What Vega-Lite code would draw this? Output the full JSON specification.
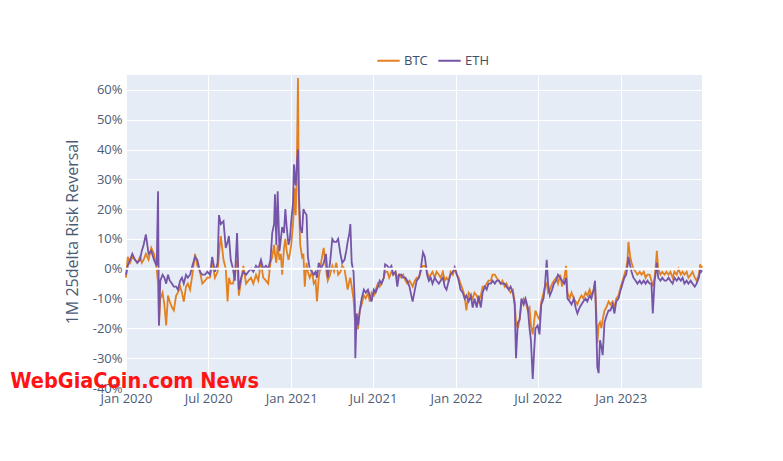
{
  "$schema": "https://vega.github.io/schema/vega-lite/v6.json",
  "autosize": {"type": "none"},
  "width": 576,
  "height": 313,
  "padding": {"left": 126, "top": 75, "right": 81, "bottom": 73},
  "background": "white",
  "config": {
    "font": "Open Sans",
    "view": {"fill": "#E5ECF6", "stroke": null},
    "axis": {"grid": true, "gridColor": "white", "gridWidth": 1, "domain": false, "ticks": false, "labelColor": "#4c5c76", "labelFont": "Open Sans", "labelFontSize": 13, "titleColor": "#4c5c76", "titleFont": "Open Sans", "titleFontWeight": "normal", "titleFontSize": 16, "labelOverlap": false},
    "axisX": {"format": "%b %Y", "tickCount": {"interval": "month", "step": 6}, "labelPadding": 4, "labelFlush": false},
    "axisY": {"values": [-40, -30, -20, -10, 0, 10, 20, 30, 40, 50, 60], "labelExpr": "datum.value + '%'", "labelPadding": 4, "titlePadding": 12}
  },
  "datasets": {
    "rr": [
      {"date":"2020-01-01","s":"BTC","v":-3},{"date":"2020-01-05","s":"BTC","v":4},{"date":"2020-01-10","s":"BTC","v":2},{"date":"2020-01-15","s":"BTC","v":4},{"date":"2020-01-21","s":"BTC","v":3},{"date":"2020-01-26","s":"BTC","v":2},{"date":"2020-02-01","s":"BTC","v":4},{"date":"2020-02-05","s":"BTC","v":2},{"date":"2020-02-09","s":"BTC","v":3},{"date":"2020-02-14","s":"BTC","v":5},{"date":"2020-02-20","s":"BTC","v":3},{"date":"2020-02-26","s":"BTC","v":7},{"date":"2020-03-03","s":"BTC","v":5},{"date":"2020-03-09","s":"BTC","v":0},{"date":"2020-03-12","s":"BTC","v":-5},{"date":"2020-03-14","s":"BTC","v":-19},{"date":"2020-03-17","s":"BTC","v":-10},{"date":"2020-03-22","s":"BTC","v":-8},{"date":"2020-03-26","s":"BTC","v":-12},{"date":"2020-03-30","s":"BTC","v":-19},{"date":"2020-04-03","s":"BTC","v":-9},{"date":"2020-04-07","s":"BTC","v":-11},{"date":"2020-04-12","s":"BTC","v":-13},{"date":"2020-04-16","s":"BTC","v":-14},{"date":"2020-04-21","s":"BTC","v":-9},{"date":"2020-04-25","s":"BTC","v":-8},{"date":"2020-04-30","s":"BTC","v":-6},{"date":"2020-05-04","s":"BTC","v":-8},{"date":"2020-05-08","s":"BTC","v":-11},{"date":"2020-05-13","s":"BTC","v":-6},{"date":"2020-05-17","s":"BTC","v":-5},{"date":"2020-05-22","s":"BTC","v":-7},{"date":"2020-05-27","s":"BTC","v":-2},{"date":"2020-06-02","s":"BTC","v":5},{"date":"2020-06-07","s":"BTC","v":1},{"date":"2020-06-13","s":"BTC","v":-1},{"date":"2020-06-18","s":"BTC","v":-5},{"date":"2020-06-24","s":"BTC","v":-4},{"date":"2020-06-29","s":"BTC","v":-3},{"date":"2020-07-05","s":"BTC","v":-3},{"date":"2020-07-10","s":"BTC","v":2},{"date":"2020-07-16","s":"BTC","v":-3},{"date":"2020-07-22","s":"BTC","v":-1},{"date":"2020-07-25","s":"BTC","v":5},{"date":"2020-07-29","s":"BTC","v":11},{"date":"2020-08-04","s":"BTC","v":3},{"date":"2020-08-09","s":"BTC","v":0},{"date":"2020-08-13","s":"BTC","v":-11},{"date":"2020-08-16","s":"BTC","v":-3},{"date":"2020-08-20","s":"BTC","v":-5},{"date":"2020-08-25","s":"BTC","v":-5},{"date":"2020-08-29","s":"BTC","v":-2},{"date":"2020-09-03","s":"BTC","v":3},{"date":"2020-09-07","s":"BTC","v":-9},{"date":"2020-09-12","s":"BTC","v":-4},{"date":"2020-09-17","s":"BTC","v":1},{"date":"2020-09-23","s":"BTC","v":-5},{"date":"2020-09-28","s":"BTC","v":-4},{"date":"2020-10-04","s":"BTC","v":-3},{"date":"2020-10-09","s":"BTC","v":-5},{"date":"2020-10-15","s":"BTC","v":-2},{"date":"2020-10-20","s":"BTC","v":-4},{"date":"2020-10-26","s":"BTC","v":2},{"date":"2020-10-31","s":"BTC","v":-3},{"date":"2020-11-06","s":"BTC","v":-4},{"date":"2020-11-11","s":"BTC","v":-5},{"date":"2020-11-16","s":"BTC","v":2},{"date":"2020-11-20","s":"BTC","v":4},{"date":"2020-11-24","s":"BTC","v":8},{"date":"2020-11-26","s":"BTC","v":5},{"date":"2020-11-29","s":"BTC","v":2},{"date":"2020-12-02","s":"BTC","v":8},{"date":"2020-12-06","s":"BTC","v":3},{"date":"2020-12-09","s":"BTC","v":5},{"date":"2020-12-12","s":"BTC","v":-2},{"date":"2020-12-16","s":"BTC","v":7},{"date":"2020-12-19","s":"BTC","v":10},{"date":"2020-12-22","s":"BTC","v":6},{"date":"2020-12-26","s":"BTC","v":3},{"date":"2020-12-29","s":"BTC","v":5},{"date":"2021-01-01","s":"BTC","v":8},{"date":"2021-01-05","s":"BTC","v":15},{"date":"2021-01-07","s":"BTC","v":20},{"date":"2021-01-09","s":"BTC","v":27},{"date":"2021-01-11","s":"BTC","v":18},{"date":"2021-01-13","s":"BTC","v":30},{"date":"2021-01-16","s":"BTC","v":64},{"date":"2021-01-18","s":"BTC","v":22},{"date":"2021-01-21","s":"BTC","v":8},{"date":"2021-01-25","s":"BTC","v":4},{"date":"2021-01-28","s":"BTC","v":5},{"date":"2021-01-31","s":"BTC","v":-6},{"date":"2021-02-04","s":"BTC","v":2},{"date":"2021-02-07","s":"BTC","v":-1},{"date":"2021-02-11","s":"BTC","v":-3},{"date":"2021-02-16","s":"BTC","v":-1},{"date":"2021-02-20","s":"BTC","v":-5},{"date":"2021-02-24","s":"BTC","v":-4},{"date":"2021-02-27","s":"BTC","v":-11},{"date":"2021-03-03","s":"BTC","v":-3},{"date":"2021-03-08","s":"BTC","v":2},{"date":"2021-03-14","s":"BTC","v":7},{"date":"2021-03-19","s":"BTC","v":0},{"date":"2021-03-23","s":"BTC","v":-4},{"date":"2021-03-28","s":"BTC","v":-2},{"date":"2021-04-02","s":"BTC","v":1},{"date":"2021-04-06","s":"BTC","v":-1},{"date":"2021-04-11","s":"BTC","v":2},{"date":"2021-04-15","s":"BTC","v":-2},{"date":"2021-04-20","s":"BTC","v":-1},{"date":"2021-04-24","s":"BTC","v":1},{"date":"2021-04-29","s":"BTC","v":0},{"date":"2021-05-03","s":"BTC","v":-4},{"date":"2021-05-06","s":"BTC","v":-7},{"date":"2021-05-10","s":"BTC","v":-4},{"date":"2021-05-12","s":"BTC","v":-3},{"date":"2021-05-15","s":"BTC","v":-6},{"date":"2021-05-19","s":"BTC","v":-10},{"date":"2021-05-22","s":"BTC","v":-17},{"date":"2021-05-23","s":"BTC","v":-16},{"date":"2021-05-26","s":"BTC","v":-20},{"date":"2021-05-29","s":"BTC","v":-20},{"date":"2021-06-02","s":"BTC","v":-14},{"date":"2021-06-06","s":"BTC","v":-12},{"date":"2021-06-11","s":"BTC","v":-9},{"date":"2021-06-15","s":"BTC","v":-10},{"date":"2021-06-20","s":"BTC","v":-8},{"date":"2021-06-24","s":"BTC","v":-11},{"date":"2021-06-28","s":"BTC","v":-8},{"date":"2021-07-03","s":"BTC","v":-9},{"date":"2021-07-07","s":"BTC","v":-7},{"date":"2021-07-12","s":"BTC","v":-5},{"date":"2021-07-16","s":"BTC","v":-6},{"date":"2021-07-20","s":"BTC","v":-5},{"date":"2021-07-25","s":"BTC","v":-3},{"date":"2021-07-28","s":"BTC","v":-1},{"date":"2021-08-02","s":"BTC","v":-1},{"date":"2021-08-06","s":"BTC","v":-3},{"date":"2021-08-11","s":"BTC","v":-1},{"date":"2021-08-15","s":"BTC","v":-2},{"date":"2021-08-20","s":"BTC","v":-1},{"date":"2021-08-24","s":"BTC","v":-3},{"date":"2021-08-28","s":"BTC","v":-2},{"date":"2021-09-02","s":"BTC","v":-3},{"date":"2021-09-06","s":"BTC","v":-2},{"date":"2021-09-11","s":"BTC","v":-4},{"date":"2021-09-15","s":"BTC","v":-5},{"date":"2021-09-20","s":"BTC","v":-4},{"date":"2021-09-24","s":"BTC","v":-5},{"date":"2021-09-27","s":"BTC","v":-6},{"date":"2021-10-02","s":"BTC","v":-4},{"date":"2021-10-06","s":"BTC","v":-3},{"date":"2021-10-11","s":"BTC","v":-3},{"date":"2021-10-15","s":"BTC","v":-1},{"date":"2021-10-20","s":"BTC","v":1},{"date":"2021-10-24","s":"BTC","v":1},{"date":"2021-10-29","s":"BTC","v":-1},{"date":"2021-11-02","s":"BTC","v":-3},{"date":"2021-11-06","s":"BTC","v":-2},{"date":"2021-11-10","s":"BTC","v":-1},{"date":"2021-11-15","s":"BTC","v":-3},{"date":"2021-11-19","s":"BTC","v":-1},{"date":"2021-11-24","s":"BTC","v":-2},{"date":"2021-11-28","s":"BTC","v":-3},{"date":"2021-12-03","s":"BTC","v":-1},{"date":"2021-12-07","s":"BTC","v":-4},{"date":"2021-12-11","s":"BTC","v":-3},{"date":"2021-12-16","s":"BTC","v":-4},{"date":"2021-12-20","s":"BTC","v":-1},{"date":"2021-12-25","s":"BTC","v":-2},{"date":"2021-12-29","s":"BTC","v":0},{"date":"2022-01-03","s":"BTC","v":-2},{"date":"2022-01-07","s":"BTC","v":-3},{"date":"2022-01-11","s":"BTC","v":-5},{"date":"2022-01-16","s":"BTC","v":-7},{"date":"2022-01-20","s":"BTC","v":-9},{"date":"2022-01-24","s":"BTC","v":-14},{"date":"2022-01-29","s":"BTC","v":-8},{"date":"2022-02-03","s":"BTC","v":-9},{"date":"2022-02-07","s":"BTC","v":-10},{"date":"2022-02-11","s":"BTC","v":-8},{"date":"2022-02-16","s":"BTC","v":-9},{"date":"2022-02-20","s":"BTC","v":-11},{"date":"2022-02-25","s":"BTC","v":-9},{"date":"2022-03-01","s":"BTC","v":-6},{"date":"2022-03-06","s":"BTC","v":-6},{"date":"2022-03-10","s":"BTC","v":-5},{"date":"2022-03-14","s":"BTC","v":-4},{"date":"2022-03-19","s":"BTC","v":-4},{"date":"2022-03-23","s":"BTC","v":-2},{"date":"2022-03-28","s":"BTC","v":-2},{"date":"2022-04-01","s":"BTC","v":-3},{"date":"2022-04-06","s":"BTC","v":-4},{"date":"2022-04-10","s":"BTC","v":-5},{"date":"2022-04-14","s":"BTC","v":-4},{"date":"2022-04-19","s":"BTC","v":-6},{"date":"2022-04-23","s":"BTC","v":-5},{"date":"2022-04-28","s":"BTC","v":-7},{"date":"2022-05-02","s":"BTC","v":-8},{"date":"2022-05-07","s":"BTC","v":-7},{"date":"2022-05-11","s":"BTC","v":-11},{"date":"2022-05-14","s":"BTC","v":-18},{"date":"2022-05-18","s":"BTC","v":-20},{"date":"2022-05-22","s":"BTC","v":-17},{"date":"2022-05-26","s":"BTC","v":-12},{"date":"2022-05-31","s":"BTC","v":-10},{"date":"2022-06-04","s":"BTC","v":-11},{"date":"2022-06-09","s":"BTC","v":-14},{"date":"2022-06-13","s":"BTC","v":-13},{"date":"2022-06-16","s":"BTC","v":-19},{"date":"2022-06-20","s":"BTC","v":-22},{"date":"2022-06-23","s":"BTC","v":-18},{"date":"2022-06-26","s":"BTC","v":-14},{"date":"2022-07-01","s":"BTC","v":-16},{"date":"2022-07-05","s":"BTC","v":-17},{"date":"2022-07-09","s":"BTC","v":-11},{"date":"2022-07-14","s":"BTC","v":-8},{"date":"2022-07-17","s":"BTC","v":-6},{"date":"2022-07-21","s":"BTC","v":-5},{"date":"2022-07-24","s":"BTC","v":-8},{"date":"2022-07-28","s":"BTC","v":-7},{"date":"2022-08-02","s":"BTC","v":-5},{"date":"2022-08-06","s":"BTC","v":-4},{"date":"2022-08-11","s":"BTC","v":-3},{"date":"2022-08-15","s":"BTC","v":-5},{"date":"2022-08-20","s":"BTC","v":-2},{"date":"2022-08-24","s":"BTC","v":-6},{"date":"2022-08-29","s":"BTC","v":-3},{"date":"2022-09-02","s":"BTC","v":1},{"date":"2022-09-05","s":"BTC","v":-8},{"date":"2022-09-10","s":"BTC","v":-10},{"date":"2022-09-14","s":"BTC","v":-8},{"date":"2022-09-19","s":"BTC","v":-10},{"date":"2022-09-23","s":"BTC","v":-11},{"date":"2022-09-27","s":"BTC","v":-12},{"date":"2022-10-02","s":"BTC","v":-10},{"date":"2022-10-06","s":"BTC","v":-9},{"date":"2022-10-10","s":"BTC","v":-10},{"date":"2022-10-15","s":"BTC","v":-8},{"date":"2022-10-19","s":"BTC","v":-9},{"date":"2022-10-24","s":"BTC","v":-7},{"date":"2022-10-28","s":"BTC","v":-9},{"date":"2022-11-02","s":"BTC","v":-7},{"date":"2022-11-05","s":"BTC","v":-5},{"date":"2022-11-08","s":"BTC","v":-15},{"date":"2022-11-10","s":"BTC","v":-25},{"date":"2022-11-13","s":"BTC","v":-19},{"date":"2022-11-16","s":"BTC","v":-18},{"date":"2022-11-19","s":"BTC","v":-20},{"date":"2022-11-22","s":"BTC","v":-17},{"date":"2022-11-26","s":"BTC","v":-14},{"date":"2022-11-30","s":"BTC","v":-13},{"date":"2022-12-05","s":"BTC","v":-11},{"date":"2022-12-09","s":"BTC","v":-12},{"date":"2022-12-14","s":"BTC","v":-11},{"date":"2022-12-18","s":"BTC","v":-13},{"date":"2022-12-22","s":"BTC","v":-10},{"date":"2022-12-27","s":"BTC","v":-9},{"date":"2023-01-01","s":"BTC","v":-6},{"date":"2023-01-05","s":"BTC","v":-4},{"date":"2023-01-09","s":"BTC","v":-2},{"date":"2023-01-13","s":"BTC","v":0},{"date":"2023-01-16","s":"BTC","v":3},{"date":"2023-01-18","s":"BTC","v":9},{"date":"2023-01-22","s":"BTC","v":4},{"date":"2023-01-25","s":"BTC","v":2},{"date":"2023-01-29","s":"BTC","v":0},{"date":"2023-02-03","s":"BTC","v":-1},{"date":"2023-02-07","s":"BTC","v":-2},{"date":"2023-02-12","s":"BTC","v":-1},{"date":"2023-02-16","s":"BTC","v":-2},{"date":"2023-02-21","s":"BTC","v":-1},{"date":"2023-02-25","s":"BTC","v":-3},{"date":"2023-03-01","s":"BTC","v":-2},{"date":"2023-03-06","s":"BTC","v":-2},{"date":"2023-03-10","s":"BTC","v":-4},{"date":"2023-03-13","s":"BTC","v":-6},{"date":"2023-03-17","s":"BTC","v":-3},{"date":"2023-03-20","s":"BTC","v":2},{"date":"2023-03-22","s":"BTC","v":6},{"date":"2023-03-25","s":"BTC","v":0},{"date":"2023-03-30","s":"BTC","v":-2},{"date":"2023-04-03","s":"BTC","v":-1},{"date":"2023-04-08","s":"BTC","v":-2},{"date":"2023-04-12","s":"BTC","v":-1},{"date":"2023-04-17","s":"BTC","v":-2},{"date":"2023-04-21","s":"BTC","v":-1},{"date":"2023-04-26","s":"BTC","v":-3},{"date":"2023-04-30","s":"BTC","v":-1},{"date":"2023-05-05","s":"BTC","v":-2},{"date":"2023-05-09","s":"BTC","v":0},{"date":"2023-05-14","s":"BTC","v":-2},{"date":"2023-05-18","s":"BTC","v":-1},{"date":"2023-05-22","s":"BTC","v":-2},{"date":"2023-05-27","s":"BTC","v":-1},{"date":"2023-05-31","s":"BTC","v":-3},{"date":"2023-06-05","s":"BTC","v":-2},{"date":"2023-06-09","s":"BTC","v":-1},{"date":"2023-06-14","s":"BTC","v":-3},{"date":"2023-06-18","s":"BTC","v":-4},{"date":"2023-06-23","s":"BTC","v":-2},{"date":"2023-06-26","s":"BTC","v":1.5},{"date":"2023-06-28","s":"BTC","v":0},{"date":"2023-06-30","s":"BTC","v":1},
      {"date":"2020-01-01","s":"ETH","v":-2},{"date":"2020-01-05","s":"ETH","v":1},{"date":"2020-01-10","s":"ETH","v":3},{"date":"2020-01-15","s":"ETH","v":5},{"date":"2020-01-21","s":"ETH","v":3},{"date":"2020-01-26","s":"ETH","v":2},{"date":"2020-02-01","s":"ETH","v":3},{"date":"2020-02-05","s":"ETH","v":6},{"date":"2020-02-09","s":"ETH","v":8},{"date":"2020-02-14","s":"ETH","v":11.5},{"date":"2020-02-20","s":"ETH","v":5},{"date":"2020-02-26","s":"ETH","v":6},{"date":"2020-03-03","s":"ETH","v":3},{"date":"2020-03-09","s":"ETH","v":1},{"date":"2020-03-12","s":"ETH","v":26},{"date":"2020-03-14","s":"ETH","v":-19},{"date":"2020-03-17","s":"ETH","v":-4},{"date":"2020-03-22","s":"ETH","v":-2},{"date":"2020-03-26","s":"ETH","v":-3},{"date":"2020-03-30","s":"ETH","v":-5},{"date":"2020-04-03","s":"ETH","v":-2},{"date":"2020-04-07","s":"ETH","v":-4},{"date":"2020-04-12","s":"ETH","v":-5},{"date":"2020-04-16","s":"ETH","v":-6},{"date":"2020-04-21","s":"ETH","v":-6},{"date":"2020-04-25","s":"ETH","v":-7},{"date":"2020-04-30","s":"ETH","v":-4},{"date":"2020-05-04","s":"ETH","v":-3},{"date":"2020-05-08","s":"ETH","v":-5},{"date":"2020-05-13","s":"ETH","v":-2},{"date":"2020-05-17","s":"ETH","v":-3},{"date":"2020-05-22","s":"ETH","v":-2},{"date":"2020-05-27","s":"ETH","v":1},{"date":"2020-06-02","s":"ETH","v":4},{"date":"2020-06-07","s":"ETH","v":3},{"date":"2020-06-13","s":"ETH","v":-1},{"date":"2020-06-18","s":"ETH","v":-2},{"date":"2020-06-24","s":"ETH","v":-2},{"date":"2020-06-29","s":"ETH","v":-1},{"date":"2020-07-05","s":"ETH","v":-2},{"date":"2020-07-10","s":"ETH","v":4},{"date":"2020-07-16","s":"ETH","v":-1},{"date":"2020-07-22","s":"ETH","v":2},{"date":"2020-07-25","s":"ETH","v":18},{"date":"2020-07-29","s":"ETH","v":15},{"date":"2020-08-04","s":"ETH","v":16},{"date":"2020-08-09","s":"ETH","v":7},{"date":"2020-08-13","s":"ETH","v":9},{"date":"2020-08-16","s":"ETH","v":11},{"date":"2020-08-20","s":"ETH","v":3},{"date":"2020-08-25","s":"ETH","v":0},{"date":"2020-08-29","s":"ETH","v":-4},{"date":"2020-09-03","s":"ETH","v":12},{"date":"2020-09-07","s":"ETH","v":-7},{"date":"2020-09-12","s":"ETH","v":-3},{"date":"2020-09-17","s":"ETH","v":-1},{"date":"2020-09-23","s":"ETH","v":-2},{"date":"2020-09-28","s":"ETH","v":-1},{"date":"2020-10-04","s":"ETH","v":0},{"date":"2020-10-09","s":"ETH","v":-1},{"date":"2020-10-15","s":"ETH","v":1},{"date":"2020-10-20","s":"ETH","v":0},{"date":"2020-10-26","s":"ETH","v":3},{"date":"2020-10-31","s":"ETH","v":0},{"date":"2020-11-06","s":"ETH","v":1},{"date":"2020-11-11","s":"ETH","v":0},{"date":"2020-11-16","s":"ETH","v":3},{"date":"2020-11-20","s":"ETH","v":12},{"date":"2020-11-24","s":"ETH","v":15},{"date":"2020-11-26","s":"ETH","v":25},{"date":"2020-11-29","s":"ETH","v":8},{"date":"2020-12-02","s":"ETH","v":26},{"date":"2020-12-06","s":"ETH","v":6},{"date":"2020-12-09","s":"ETH","v":10},{"date":"2020-12-12","s":"ETH","v":14},{"date":"2020-12-16","s":"ETH","v":12},{"date":"2020-12-19","s":"ETH","v":20},{"date":"2020-12-22","s":"ETH","v":14},{"date":"2020-12-26","s":"ETH","v":8},{"date":"2020-12-29","s":"ETH","v":10},{"date":"2021-01-01","s":"ETH","v":16},{"date":"2021-01-05","s":"ETH","v":22},{"date":"2021-01-07","s":"ETH","v":35},{"date":"2021-01-09","s":"ETH","v":30},{"date":"2021-01-11","s":"ETH","v":28},{"date":"2021-01-13","s":"ETH","v":34},{"date":"2021-01-16","s":"ETH","v":40},{"date":"2021-01-18","s":"ETH","v":25},{"date":"2021-01-21","s":"ETH","v":14},{"date":"2021-01-25","s":"ETH","v":12},{"date":"2021-01-28","s":"ETH","v":20},{"date":"2021-01-31","s":"ETH","v":19},{"date":"2021-02-04","s":"ETH","v":18},{"date":"2021-02-07","s":"ETH","v":4},{"date":"2021-02-11","s":"ETH","v":0},{"date":"2021-02-16","s":"ETH","v":-1},{"date":"2021-02-20","s":"ETH","v":-2},{"date":"2021-02-24","s":"ETH","v":-1},{"date":"2021-02-27","s":"ETH","v":-3},{"date":"2021-03-03","s":"ETH","v":2},{"date":"2021-03-08","s":"ETH","v":0},{"date":"2021-03-14","s":"ETH","v":2},{"date":"2021-03-19","s":"ETH","v":5},{"date":"2021-03-23","s":"ETH","v":-3},{"date":"2021-03-28","s":"ETH","v":2},{"date":"2021-04-02","s":"ETH","v":10},{"date":"2021-04-06","s":"ETH","v":9},{"date":"2021-04-11","s":"ETH","v":9},{"date":"2021-04-15","s":"ETH","v":10},{"date":"2021-04-20","s":"ETH","v":5},{"date":"2021-04-24","s":"ETH","v":2},{"date":"2021-04-29","s":"ETH","v":3},{"date":"2021-05-03","s":"ETH","v":6},{"date":"2021-05-06","s":"ETH","v":9},{"date":"2021-05-10","s":"ETH","v":12},{"date":"2021-05-12","s":"ETH","v":15},{"date":"2021-05-15","s":"ETH","v":2},{"date":"2021-05-19","s":"ETH","v":-1},{"date":"2021-05-22","s":"ETH","v":-12},{"date":"2021-05-23","s":"ETH","v":-30},{"date":"2021-05-26","s":"ETH","v":-15},{"date":"2021-05-29","s":"ETH","v":-19},{"date":"2021-06-02","s":"ETH","v":-14},{"date":"2021-06-06","s":"ETH","v":-10},{"date":"2021-06-11","s":"ETH","v":-7},{"date":"2021-06-15","s":"ETH","v":-8},{"date":"2021-06-20","s":"ETH","v":-7},{"date":"2021-06-24","s":"ETH","v":-9},{"date":"2021-06-28","s":"ETH","v":-11},{"date":"2021-07-03","s":"ETH","v":-7},{"date":"2021-07-07","s":"ETH","v":-8},{"date":"2021-07-12","s":"ETH","v":-6},{"date":"2021-07-16","s":"ETH","v":-4},{"date":"2021-07-20","s":"ETH","v":-5},{"date":"2021-07-25","s":"ETH","v":-3},{"date":"2021-07-28","s":"ETH","v":1.5},{"date":"2021-08-02","s":"ETH","v":1},{"date":"2021-08-06","s":"ETH","v":0},{"date":"2021-08-11","s":"ETH","v":1},{"date":"2021-08-15","s":"ETH","v":-2},{"date":"2021-08-20","s":"ETH","v":-1},{"date":"2021-08-24","s":"ETH","v":-6},{"date":"2021-08-28","s":"ETH","v":-2},{"date":"2021-09-02","s":"ETH","v":-2},{"date":"2021-09-06","s":"ETH","v":-3},{"date":"2021-09-11","s":"ETH","v":-3},{"date":"2021-09-15","s":"ETH","v":-4},{"date":"2021-09-20","s":"ETH","v":-6},{"date":"2021-09-24","s":"ETH","v":-9},{"date":"2021-09-27","s":"ETH","v":-11},{"date":"2021-10-02","s":"ETH","v":-7},{"date":"2021-10-06","s":"ETH","v":-4},{"date":"2021-10-11","s":"ETH","v":-3},{"date":"2021-10-15","s":"ETH","v":0},{"date":"2021-10-20","s":"ETH","v":5.5},{"date":"2021-10-24","s":"ETH","v":4},{"date":"2021-10-29","s":"ETH","v":-2},{"date":"2021-11-02","s":"ETH","v":-4},{"date":"2021-11-06","s":"ETH","v":-3},{"date":"2021-11-10","s":"ETH","v":-5},{"date":"2021-11-15","s":"ETH","v":-3},{"date":"2021-11-19","s":"ETH","v":-4},{"date":"2021-11-24","s":"ETH","v":-5},{"date":"2021-11-28","s":"ETH","v":-4},{"date":"2021-12-03","s":"ETH","v":-3},{"date":"2021-12-07","s":"ETH","v":-6},{"date":"2021-12-11","s":"ETH","v":-7},{"date":"2021-12-16","s":"ETH","v":-4},{"date":"2021-12-20","s":"ETH","v":-2},{"date":"2021-12-25","s":"ETH","v":-1},{"date":"2021-12-29","s":"ETH","v":0.5},{"date":"2022-01-03","s":"ETH","v":-2},{"date":"2022-01-07","s":"ETH","v":-4},{"date":"2022-01-11","s":"ETH","v":-7},{"date":"2022-01-16","s":"ETH","v":-8},{"date":"2022-01-20","s":"ETH","v":-10},{"date":"2022-01-24","s":"ETH","v":-9},{"date":"2022-01-29","s":"ETH","v":-11},{"date":"2022-02-03","s":"ETH","v":-9},{"date":"2022-02-07","s":"ETH","v":-13},{"date":"2022-02-11","s":"ETH","v":-10},{"date":"2022-02-16","s":"ETH","v":-13},{"date":"2022-02-20","s":"ETH","v":-9},{"date":"2022-02-25","s":"ETH","v":-13},{"date":"2022-03-01","s":"ETH","v":-8},{"date":"2022-03-06","s":"ETH","v":-6},{"date":"2022-03-10","s":"ETH","v":-7},{"date":"2022-03-14","s":"ETH","v":-5},{"date":"2022-03-19","s":"ETH","v":-5},{"date":"2022-03-23","s":"ETH","v":-4},{"date":"2022-03-28","s":"ETH","v":-5},{"date":"2022-04-01","s":"ETH","v":-4},{"date":"2022-04-06","s":"ETH","v":-4},{"date":"2022-04-10","s":"ETH","v":-5},{"date":"2022-04-14","s":"ETH","v":-5},{"date":"2022-04-19","s":"ETH","v":-5},{"date":"2022-04-23","s":"ETH","v":-6},{"date":"2022-04-28","s":"ETH","v":-7},{"date":"2022-05-02","s":"ETH","v":-6},{"date":"2022-05-07","s":"ETH","v":-8},{"date":"2022-05-11","s":"ETH","v":-12},{"date":"2022-05-14","s":"ETH","v":-30},{"date":"2022-05-18","s":"ETH","v":-18},{"date":"2022-05-22","s":"ETH","v":-17},{"date":"2022-05-26","s":"ETH","v":-10},{"date":"2022-05-31","s":"ETH","v":-12},{"date":"2022-06-04","s":"ETH","v":-10},{"date":"2022-06-09","s":"ETH","v":-13},{"date":"2022-06-13","s":"ETH","v":-20},{"date":"2022-06-16","s":"ETH","v":-24},{"date":"2022-06-20","s":"ETH","v":-37},{"date":"2022-06-23","s":"ETH","v":-28},{"date":"2022-06-26","s":"ETH","v":-20},{"date":"2022-07-01","s":"ETH","v":-19},{"date":"2022-07-05","s":"ETH","v":-22},{"date":"2022-07-09","s":"ETH","v":-12},{"date":"2022-07-14","s":"ETH","v":-10},{"date":"2022-07-17","s":"ETH","v":-6},{"date":"2022-07-21","s":"ETH","v":3},{"date":"2022-07-24","s":"ETH","v":-5},{"date":"2022-07-28","s":"ETH","v":-9},{"date":"2022-08-02","s":"ETH","v":-7},{"date":"2022-08-06","s":"ETH","v":-5},{"date":"2022-08-11","s":"ETH","v":-4},{"date":"2022-08-15","s":"ETH","v":-2},{"date":"2022-08-20","s":"ETH","v":-3},{"date":"2022-08-24","s":"ETH","v":-4},{"date":"2022-08-29","s":"ETH","v":-5},{"date":"2022-09-02","s":"ETH","v":-3},{"date":"2022-09-05","s":"ETH","v":-10},{"date":"2022-09-10","s":"ETH","v":-11},{"date":"2022-09-14","s":"ETH","v":-12},{"date":"2022-09-19","s":"ETH","v":-10},{"date":"2022-09-23","s":"ETH","v":-13},{"date":"2022-09-27","s":"ETH","v":-15},{"date":"2022-10-02","s":"ETH","v":-13},{"date":"2022-10-06","s":"ETH","v":-12},{"date":"2022-10-10","s":"ETH","v":-11},{"date":"2022-10-15","s":"ETH","v":-10},{"date":"2022-10-19","s":"ETH","v":-11},{"date":"2022-10-24","s":"ETH","v":-9},{"date":"2022-10-28","s":"ETH","v":-10},{"date":"2022-11-02","s":"ETH","v":-7},{"date":"2022-11-05","s":"ETH","v":-4},{"date":"2022-11-08","s":"ETH","v":-20},{"date":"2022-11-10","s":"ETH","v":-33},{"date":"2022-11-13","s":"ETH","v":-35},{"date":"2022-11-16","s":"ETH","v":-24},{"date":"2022-11-19","s":"ETH","v":-26},{"date":"2022-11-22","s":"ETH","v":-29},{"date":"2022-11-26","s":"ETH","v":-18},{"date":"2022-11-30","s":"ETH","v":-16},{"date":"2022-12-05","s":"ETH","v":-14},{"date":"2022-12-09","s":"ETH","v":-14},{"date":"2022-12-14","s":"ETH","v":-12},{"date":"2022-12-18","s":"ETH","v":-15},{"date":"2022-12-22","s":"ETH","v":-11},{"date":"2022-12-27","s":"ETH","v":-10},{"date":"2023-01-01","s":"ETH","v":-7},{"date":"2023-01-05","s":"ETH","v":-5},{"date":"2023-01-09","s":"ETH","v":-3},{"date":"2023-01-13","s":"ETH","v":-2},{"date":"2023-01-16","s":"ETH","v":1},{"date":"2023-01-18","s":"ETH","v":4},{"date":"2023-01-22","s":"ETH","v":1},{"date":"2023-01-25","s":"ETH","v":-1},{"date":"2023-01-29","s":"ETH","v":-3},{"date":"2023-02-03","s":"ETH","v":-4},{"date":"2023-02-07","s":"ETH","v":-5},{"date":"2023-02-12","s":"ETH","v":-4},{"date":"2023-02-16","s":"ETH","v":-5},{"date":"2023-02-21","s":"ETH","v":-4},{"date":"2023-02-25","s":"ETH","v":-5},{"date":"2023-03-01","s":"ETH","v":-4},{"date":"2023-03-06","s":"ETH","v":-5},{"date":"2023-03-10","s":"ETH","v":-5},{"date":"2023-03-13","s":"ETH","v":-15},{"date":"2023-03-17","s":"ETH","v":-4},{"date":"2023-03-20","s":"ETH","v":-1},{"date":"2023-03-22","s":"ETH","v":2},{"date":"2023-03-25","s":"ETH","v":-3},{"date":"2023-03-30","s":"ETH","v":-4},{"date":"2023-04-03","s":"ETH","v":-3},{"date":"2023-04-08","s":"ETH","v":-4},{"date":"2023-04-12","s":"ETH","v":-4},{"date":"2023-04-17","s":"ETH","v":-3},{"date":"2023-04-21","s":"ETH","v":-4},{"date":"2023-04-26","s":"ETH","v":-5},{"date":"2023-04-30","s":"ETH","v":-3},{"date":"2023-05-05","s":"ETH","v":-4},{"date":"2023-05-09","s":"ETH","v":-3},{"date":"2023-05-14","s":"ETH","v":-4},{"date":"2023-05-18","s":"ETH","v":-3},{"date":"2023-05-22","s":"ETH","v":-5},{"date":"2023-05-27","s":"ETH","v":-4},{"date":"2023-05-31","s":"ETH","v":-5},{"date":"2023-06-05","s":"ETH","v":-4},{"date":"2023-06-09","s":"ETH","v":-5},{"date":"2023-06-14","s":"ETH","v":-6},{"date":"2023-06-18","s":"ETH","v":-5},{"date":"2023-06-23","s":"ETH","v":-3},{"date":"2023-06-26","s":"ETH","v":0},{"date":"2023-06-28","s":"ETH","v":-1},{"date":"2023-06-30","s":"ETH","v":-0.5}
    ]
  },
  "layer": [
    {
      "data": {"name": "rr"},
      "mark": {"type": "line", "strokeWidth": 1.8, "interpolate": "linear"},
      "encoding": {
        "x": {"field": "date", "type": "temporal", "scale": {"type": "utc", "nice": false}, "title": null},
        "y": {"field": "v", "type": "quantitative", "scale": {"domain": [-40, 65], "nice": false, "zero": false}, "title": "1M 25delta Risk Reversal"},
        "color": {"field": "s", "type": "nominal", "scale": {"domain": ["BTC", "ETH"], "range": ["#e38020", "#7654a8"]},
                  "legend": {"title": null, "orient": "none", "direction": "horizontal", "legendX": 250, "legendY": -27, "symbolType": "stroke", "symbolStrokeWidth": 2, "symbolSize": 500, "labelFontSize": 13, "labelColor": "#3d4f6b", "labelFont": "Open Sans", "columnPadding": 6, "labelOffset": 3}}
      }
    },
    {
      "data": {"values": [{"z": 0}]},
      "mark": {"type": "rule", "color": "white", "strokeWidth": 2},
      "encoding": {"y": {"field": "z", "type": "quantitative", "title": "1M 25delta Risk Reversal"}}
    },
    {
      "data": {"values": [{"z": 0}]},
      "mark": {"type": "text", "text": "WebGiaCoin.com News", "font": "DejaVu Sans Condensed", "fontWeight": "bold", "fontSize": 21.5, "color": "#ff1414", "align": "center", "baseline": "middle"},
      "encoding": {
        "x": {"datum": {"year": 2020, "month": 1, "date": 20, "utc": true}, "type": "temporal", "title": null},
        "y": {"datum": -38, "type": "quantitative", "title": "1M 25delta Risk Reversal"}
      }
    }
  ]
}
